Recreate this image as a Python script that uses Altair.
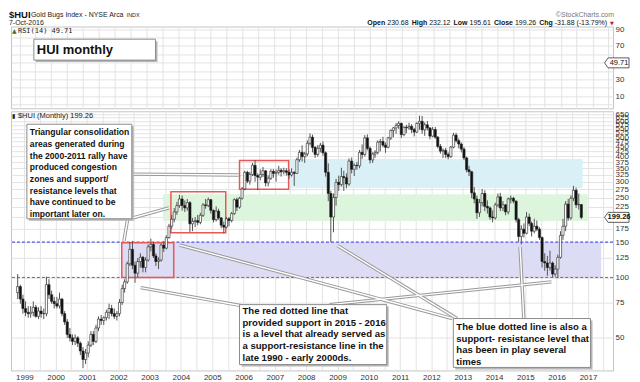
import altair as alt
import numpy as np
import pandas as pd

# ---------------- monthly candles (open, high, low, close), Oct 1998 .. Oct 2016 ----------------
hui_1998 = [(84, 104, 78, 90), (90, 92, 74, 78), (78, 82, 66, 70)]
hui_1999 = [(70, 76, 64, 67), (67, 72, 63, 66), (66, 72, 63, 67), (67, 76, 64, 71),
            (71, 73, 63, 64), (64, 71, 62, 68), (68, 72, 63, 66), (66, 70, 62, 66),
            (66, 101, 64, 92), (92, 98, 78, 82), (82, 86, 74, 76), (76, 80, 70, 74)]
hui_2000 = [(74, 80, 70, 72), (72, 84, 70, 78), (78, 79, 64, 66), (66, 68, 58, 60),
            (60, 62, 50, 52), (52, 56, 48, 50), (50, 52, 46, 48), (48, 52, 46, 50),
            (50, 51, 45, 47), (47, 48, 41, 43), (43, 45, 35.3, 39), (39, 44, 37, 42)]
hui_2001 = [(42, 48, 40, 46), (46, 54, 45, 52), (52, 54, 46, 48), (48, 58, 47, 56),
            (56, 64, 54, 62), (62, 65, 58, 61), (61, 64, 58, 63), (63, 69, 61, 67),
            (67, 74, 62, 70), (70, 73, 64, 66), (66, 70, 62, 64), (64, 68, 61, 66)]
hui_2002 = [(66, 78, 64, 75), (75, 92, 73, 88), (88, 98, 84, 95), (95, 120, 93, 117),
            (117, 150, 114, 138), (138, 152, 110, 115), (115, 120, 94, 105), (105, 125, 100, 120),
            (120, 132, 112, 126), (126, 128, 106, 112), (112, 126, 106, 122), (122, 146, 120, 142)]
hui_2003 = [(142, 156, 135, 146), (146, 150, 125, 128), (128, 132, 114, 120), (120, 126, 110, 122),
            (122, 148, 120, 145), (145, 152, 134, 140), (140, 162, 138, 158), (158, 185, 156, 180),
            (180, 205, 175, 195), (195, 222, 188, 212), (212, 238, 205, 228), (228, 258, 222, 246)]
hui_2004 = [(246, 256, 215, 228), (228, 242, 212, 222), (222, 246, 215, 236), (236, 240, 168, 185),
            (185, 198, 170, 190), (190, 200, 178, 192), (192, 205, 182, 188), (188, 210, 184, 204),
            (204, 235, 200, 230), (230, 246, 220, 228), (228, 250, 224, 244), (244, 246, 208, 216)]
hui_2005 = [(216, 218, 188, 194), (194, 226, 190, 214), (214, 220, 194, 198), (198, 200, 176, 182),
            (182, 190, 166, 178), (178, 200, 176, 196), (196, 200, 180, 192), (192, 212, 188, 208),
            (208, 248, 205, 244), (244, 250, 214, 224), (224, 252, 220, 248), (248, 282, 244, 276)]
hui_2006 = [(276, 340, 272, 334), (334, 340, 295, 302), (302, 336, 290, 326), (326, 372, 320, 362),
            (362, 385, 300, 322), (322, 330, 272, 316), (316, 345, 305, 326), (326, 355, 316, 340),
            (340, 342, 284, 296), (296, 322, 284, 312), (312, 346, 306, 338), (338, 346, 314, 330)]
hui_2007 = [(330, 345, 300, 334), (334, 360, 325, 342), (342, 350, 318, 336), (336, 352, 326, 340),
            (340, 350, 322, 334), (334, 344, 310, 324), (324, 350, 318, 334), (334, 338, 286, 330),
            (330, 395, 328, 386), (386, 432, 376, 420), (420, 455, 378, 400), (400, 422, 372, 412)]
hui_2008 = [(412, 482, 402, 466), (466, 522, 455, 500), (500, 515, 420, 444), (444, 452, 394, 410),
            (410, 456, 400, 440), (440, 468, 420, 456), (456, 476, 404, 418), (418, 424, 318, 334),
            (334, 370, 240, 262), (262, 270, 150, 200), (200, 262, 168, 250), (250, 310, 228, 298)]
hui_2009 = [(298, 322, 270, 290), (290, 352, 284, 318), (318, 340, 270, 314), (314, 330, 278, 292),
            (292, 392, 286, 380), (380, 396, 330, 346), (346, 370, 320, 362), (362, 376, 344, 360),
            (360, 432, 350, 420), (420, 460, 390, 410), (410, 512, 400, 496), (496, 516, 430, 440)]
hui_2010 = [(440, 450, 370, 385), (385, 420, 372, 412), (412, 430, 395, 420), (420, 482, 410, 472),
            (472, 490, 425, 476), (476, 502, 445, 456), (456, 470, 418, 445), (445, 502, 440, 496),
            (496, 546, 484, 540), (540, 562, 500, 556), (556, 588, 520, 572), (572, 600, 550, 586)]
hui_2011 = [(586, 590, 495, 515), (515, 566, 505, 560), (560, 576, 524, 556), (556, 590, 544, 566),
            (566, 580, 524, 546), (546, 556, 504, 530), (530, 592, 524, 586), (586, 640, 544, 600),
            (600, 638, 520, 544), (544, 592, 508, 576), (576, 602, 540, 556), (556, 560, 488, 506)]
hui_2012 = [(506, 562, 500, 546), (546, 562, 490, 500), (500, 506, 440, 450), (450, 462, 414, 426),
            (426, 440, 394, 430), (430, 442, 394, 410), (410, 420, 388, 400), (400, 452, 394, 446),
            (446, 526, 440, 512), (512, 526, 470, 480), (480, 492, 440, 462), (462, 470, 420, 436)]
hui_2013 = [(436, 446, 384, 394), (394, 400, 334, 344), (344, 360, 320, 336), (336, 340, 248, 264),
            (264, 282, 234, 246), (246, 256, 196, 210), (210, 246, 200, 236), (236, 276, 226, 262),
            (262, 272, 214, 226), (226, 242, 208, 222), (222, 226, 194, 200), (200, 216, 188, 198)]
hui_2014 = [(198, 236, 194, 230), (230, 262, 224, 252), (252, 264, 214, 222), (222, 240, 214, 230),
            (230, 232, 204, 212), (212, 250, 206, 246), (246, 256, 234, 248), (248, 252, 234, 240),
            (240, 242, 188, 194), (194, 198, 150, 160), (160, 182, 146, 174), (174, 186, 158, 166)]
hui_2015 = [(166, 212, 164, 200), (200, 208, 180, 186), (186, 190, 160, 170), (170, 196, 166, 180),
            (180, 192, 170, 174), (174, 178, 154, 158), (158, 160, 112, 120), (120, 132, 108, 118),
            (118, 128, 102, 112), (112, 136, 108, 118), (118, 120, 100, 104), (104, 115, 101, 110)]
hui_2016 = [(110, 130, 99, 126), (126, 170, 124, 162), (162, 196, 154, 180), (180, 240, 170, 232),
            (232, 246, 192, 198), (198, 256, 194, 248), (248, 286, 240, 272), (272, 280, 222, 230),
            (230, 262, 218, 231.14), (230.68, 232.12, 195.61, 199.26)]
first_month = "1998-10-01"

# ---------------- axes ----------------
price_ticks = [50, 75, 100, 125, 150, 175, 200, 225, 250, 275, 300, 325, 350, 375,
               400, 425, 450, 475, 500, 525, 550, 575, 600, 625, 650]
rsi_ticks = [0, 10, 20, 30, 40, 50, 60, 70, 80, 90]
grid_years = list(range(1999, 2018))
last_close = 199.26
last_rsi = 49.71

# ---------------- annotations (decimal year, index value) ----------------
band_start = [2002.11, 2003.43, 2007.44]
band_end = [2017.42, 2016.99, 2016.83]
band_low = [99.7, 191, 279]
band_high = [150, 260, 389]
band_color = ["#dcdcf5", "#ddf4dd", "#d9f1f6"]

box_start = [2002.11, 2003.68, 2005.87]
box_end = [2003.77, 2005.43, 2007.44]
box_low = [100, 167, 275]
box_high = [149, 267, 383]

level_values = [150, 100]
level_colors = ["#2d2de6", "#e23c3c"]

ptr_t0 = [2002.43, 2002.36, 2002.30, 2003.96, 2009.00, 2014.83, 2002.71, 2008.75]
ptr_v0 = [327, 196, 196, 145, 144, 142, 89, 73.2]
ptr_t1 = [2005.84, 2003.62, 2002.18, 2012.67, 2012.82, 2014.95, 2005.93, 2015.83]
ptr_v1 = [324, 222, 152, 62.4, 62.4, 62.4, 72.3, 95]

note_texts = [
    "Triangular consolidation\nareas generated during\nthe 2000-2011 rally have\nproduced congestion\n"
    "zones and support/\nresistance levels that\nhave continued to be\nimportant later on.",
    "The red dotted line that\nprovided support in 2015 - 2016\nis a level that already served as\n"
    "a support-resistance line in the\nlate 1990 - early 2000ds.",
    "The blue dotted line is also a\nsupport- resistance level that\nhas been in play several\ntimes",
]
note_t0 = [1999.08, 2005.87, 2012.70]
note_t1 = [2002.43, 2010.57, 2017.08]
note_top = [580, 73.2, 62.4]
note_bottom = [196, 36.8, 35.6]
note_size = [8.6, 9.6, 9.6]
note_dy = [4, 1.5, 3.5]

title_box_t = [1999.45, 2003.27]
title_box_v = [78.1, 53.0]
title_text_v = 65.5


def dec2ts(d):
    y = int(np.floor(d))
    return pd.Timestamp(year=y, month=1, day=1) + pd.Timedelta(days=float(d - y) * 365.25)


# ---------------- frames ----------------
rows = [r for yr in (hui_1998, hui_1999, hui_2000, hui_2001, hui_2002, hui_2003, hui_2004,
                     hui_2005, hui_2006, hui_2007, hui_2008, hui_2009, hui_2010, hui_2011,
                     hui_2012, hui_2013, hui_2014, hui_2015, hui_2016) for r in yr]
candles = pd.DataFrame(rows, columns=["open", "high", "low", "close"])
candles["date"] = pd.date_range(first_month, periods=len(rows), freq="MS") + pd.Timedelta(days=14)
candles["dir"] = np.where(candles["close"] >= candles["open"], "up", "down")

bands = pd.DataFrame({"a": [dec2ts(v) for v in band_start], "b": [dec2ts(v) for v in band_end],
                      "lo": band_low, "hi": band_high, "c": band_color})
boxes = pd.DataFrame({"a": [dec2ts(v) for v in box_start], "b": [dec2ts(v) for v in box_end],
                      "lo": box_low, "hi": box_high})
levels = pd.DataFrame({"v": level_values, "c": level_colors})
ptrs = pd.DataFrame({"a": [dec2ts(v) for v in ptr_t0], "b": [dec2ts(v) for v in ptr_t1],
                     "va": ptr_v0, "vb": ptr_v1})
notes = pd.DataFrame({"a": [dec2ts(v) for v in note_t0], "b": [dec2ts(v) for v in note_t1],
                      "top": note_top, "bot": note_bottom, "txt": note_texts})
title_df = pd.DataFrame({"a": [dec2ts(title_box_t[0])], "b": [dec2ts(title_box_t[1])],
                         "top": [title_box_v[0]], "bot": [title_box_v[1]], "mid": [title_text_v]})
one = pd.DataFrame({"k": [0]})

# ---------------- scales / axes ----------------
FONT = "Liberation Sans"
PW = 604
xs = alt.Scale(domain=[alt.DateTime(year=1998, month=9, date=25),
                       alt.DateTime(year=2017, month=8, date=23)], nice=False)
ys = alt.Scale(type="log", domain=[34.4, 673], nice=False)
rs = alt.Scale(domain=[-4.69, 93.22], nice=False, zero=False)
grid_vals = [alt.DateTime(year=y, month=m, date=1) for y in grid_years for m in (1, 7)]
GRID = "#e3e3e3"

x_main = alt.Axis(values=grid_vals, title=None, grid=True, gridColor=GRID, ticks=False, domain=False,
                  labelExpr="month(datum.value) == 0 ? timeFormat(datum.value, '%Y') : ''",
                  labelFont=FONT, labelFontSize=8, labelColor="#333", labelPadding=3,
                  labelOverlap=False, labelFlush=False)
x_top = alt.Axis(values=grid_vals, title=None, grid=True, gridColor=GRID, ticks=False, domain=False,
                 labels=False)
y_main = alt.Axis(orient="right", values=price_ticks, format=".0f", title=None, grid=True,
                  gridColor=GRID, ticks=False, domain=False, labelFont=FONT, labelFontSize=8,
                  labelColor="#333", labelPadding=2, labelOverlap=False, labelFlush=False,
                  labelExpr="datum.value == 200 ? '' : datum.label")
y_rsi = alt.Axis(orient="right", values=rsi_ticks, title=None, grid=True, gridColor=GRID, ticks=False,
                 domain=False, labelFont=FONT, labelFontSize=8, labelColor="#333", labelPadding=2,
                 labelOverlap=False, labelFlush=False,
                 labelExpr="(datum.value == 10 || datum.value == 30 || datum.value == 70 || datum.value == 90) ? datum.label : ''")

X = lambda f: alt.X(f, type="temporal", scale=xs, axis=x_main)
Y = lambda f: alt.Y(f, type="quantitative", scale=ys, axis=y_main)

# ---------------- main panel ----------------
band_layer = alt.Chart(bands).mark_rect().encode(
    x=X("a"), x2="b", y=Y("lo"), y2="hi",
    fill=alt.Fill("c:N", scale=None))
level_layer = alt.Chart(levels).mark_rule(strokeDash=[3, 2], strokeWidth=1).encode(
    y=Y("v"), stroke=alt.Stroke("c:N", scale=None))
box_layer = alt.Chart(boxes).mark_rect(fillOpacity=0, stroke="#e85858", strokeWidth=1.5).encode(
    x=X("a"), x2="b", y=Y("lo"), y2="hi")
wick_layer = alt.Chart(candles).mark_rule(color="#555", strokeWidth=1).encode(
    x=X("date"), y=Y("low"), y2="high")
body_layer = alt.Chart(candles).mark_bar(size=2.2, stroke="#222", strokeWidth=0.6).encode(
    x=X("date"), y=Y("open"), y2="close",
    fill=alt.Fill("dir:N", scale=alt.Scale(domain=["up", "down"], range=["#ffffff", "#111111"]), legend=None))
ptr_outer = alt.Chart(ptrs).mark_rule(color="#999", strokeWidth=3.4).encode(
    x=X("a"), x2="b", y=Y("va"), y2="vb")
ptr_inner = alt.Chart(ptrs).mark_rule(color="#ffffff", strokeWidth=1.4).encode(
    x=X("a"), x2="b", y=Y("va"), y2="vb")
note_shadow = alt.Chart(notes).mark_rect(fill="#b5b5b5", xOffset=2, x2Offset=2, yOffset=2, y2Offset=2).encode(
    x=X("a"), x2="b", y=Y("top"), y2="bot")
note_box = alt.Chart(notes).mark_rect(fill="#ffffff", stroke="#8c8c8c", strokeWidth=1).encode(
    x=X("a"), x2="b", y=Y("top"), y2="bot")
note_layers = []
for i in range(len(note_texts)):
    note_layers.append(
        alt.Chart(notes.iloc[[i]]).mark_text(
            align="left", baseline="top", font=FONT, fontWeight="bold", fontSize=note_size[i],
            lineHeight=11.7, lineBreak="\n", dx=3, dy=note_dy[i], color="#111").encode(
            x=X("a"), y=Y("top"), text="txt:N"))

TAG = "M -1.35 0 L -1.0 -0.5 L 1.1 -0.5 L 1.1 0.5 L -1.0 0.5 Z"
price_tag = alt.Chart(pd.DataFrame({"v": [last_close]})).mark_point(
    shape=TAG, size=400, filled=True, fill="#ffffff", stroke="#333", strokeWidth=0.8, opacity=1).encode(
    x=alt.value(PW + 5), y=Y("v"))
price_txt = alt.Chart(pd.DataFrame({"v": [last_close]})).mark_text(
    font=FONT, fontSize=7.5, fontWeight="bold", color="#111").encode(
    x=alt.value(PW + 6), y=Y("v"), text=alt.value("199.26"))
main_label = alt.Chart(one).mark_text(align="left", baseline="middle", font=FONT, fontSize=7.5,
                                      color="#222").encode(
    x=alt.value(7), y=alt.value(5), text=alt.value("$HUI (Monthly) 199.26"))
main_icon = alt.Chart(one).mark_text(align="left", baseline="middle", font="DejaVu Sans", fontSize=6,
                                     color="#222").encode(
    x=alt.value(1), y=alt.value(5), text=alt.value("▮"))

main = alt.layer(band_layer, level_layer, box_layer, wick_layer, body_layer, ptr_outer, ptr_inner,
                 note_shadow, note_box, *note_layers, price_tag, price_txt, main_label, main_icon
                 ).properties(width=PW, height=260)

# ---------------- RSI panel ----------------
XT = lambda f: alt.X(f, type="temporal", scale=xs, axis=x_top)
YT = lambda f: alt.Y(f, type="quantitative", scale=rs, axis=y_rsi)
tb_shadow = alt.Chart(title_df).mark_rect(fill="#b5b5b5", xOffset=2, x2Offset=2, yOffset=2, y2Offset=2).encode(
    x=XT("a"), x2="b", y=YT("top"), y2="bot")
tb_box = alt.Chart(title_df).mark_rect(fill="#ffffff", stroke="#8c8c8c", strokeWidth=1).encode(
    x=XT("a"), x2="b", y=YT("top"), y2="bot")
tb_txt = alt.Chart(title_df).mark_text(align="left", baseline="middle", font=FONT, fontWeight="bold",
                                       fontSize=13, dx=3, color="#111").encode(
    x=XT("a"), y=YT("mid"), text=alt.value("HUI monthly"))
rsi_tag = alt.Chart(pd.DataFrame({"v": [last_rsi]})).mark_point(
    shape=TAG, size=400, filled=True, fill="#ffffff", stroke="#333", strokeWidth=0.8, opacity=1).encode(
    x=alt.value(PW + 5), y=YT("v"))
rsi_txt = alt.Chart(pd.DataFrame({"v": [last_rsi]})).mark_text(
    font=FONT, fontSize=7.5, color="#111").encode(x=alt.value(PW + 6), y=YT("v"), text=alt.value("49.71"))
rsi_label = alt.Chart(one).mark_text(align="left", baseline="middle", font="DejaVu Sans Mono", fontSize=7,
                                     color="#222").encode(
    x=alt.value(7), y=alt.value(4), text=alt.value("RSI(14) 49.71"))
rsi_icon = alt.Chart(one).mark_text(align="left", baseline="middle", font="DejaVu Sans", fontSize=6,
                                    color="#2a7a2a").encode(
    x=alt.value(1), y=alt.value(4), text=alt.value("▲"))

# header texts (pixel positions relative to the RSI panel)
hdr = []
def htxt(s, x, y, size=7, bold=False, color="#222", align="left", font=FONT):
    hdr.append(alt.Chart(one).mark_text(align=align, baseline="middle", font=font, fontSize=size,
                                        fontWeight="bold" if bold else "normal", color=color).encode(
        x=alt.value(x), y=alt.value(y), text=alt.value(s)))

htxt("$HUI", -2, -12, size=9.5, bold=True, color="#111")
htxt("Gold Bugs Index - NYSE Arca", 20, -12)
htxt("INDX", 116, -12, size=5.5)
htxt("©StockCharts.com", 605, -12, color="#777", align="right")
htxt("7-Oct-2016", -2, -4)
segs = [("Open", True, 357.5), ("230.68", False, 377.5), ("High", True, 402), ("232.12", False, 419.5),
        ("Low", True, 444), ("195.61", False, 460), ("Close", True, 484.5), ("199.26", False, 505.5),
        ("Chg", True, 530), ("-31.88 (-13.79%)", False, 545.5)]
for s, b, xpos in segs:
    htxt(s, xpos, -4, bold=b, color="#111")
htxt("▼", 601, -4, size=5, color="#c0152f", font="DejaVu Sans")

top = alt.layer(tb_shadow, tb_box, tb_txt, rsi_tag, rsi_txt, rsi_label, rsi_icon, *hdr
                ).properties(width=PW, height=82)

chart = alt.vconcat(top, main, spacing=0).properties(
    padding={"left": 0, "top": 0, "right": 0, "bottom": 0}, background="#ffffff"
).configure_view(stroke="#c4c4c4", strokeWidth=1)

chart.save("out.html", embed_options={"renderer": "svg", "actions": False})
